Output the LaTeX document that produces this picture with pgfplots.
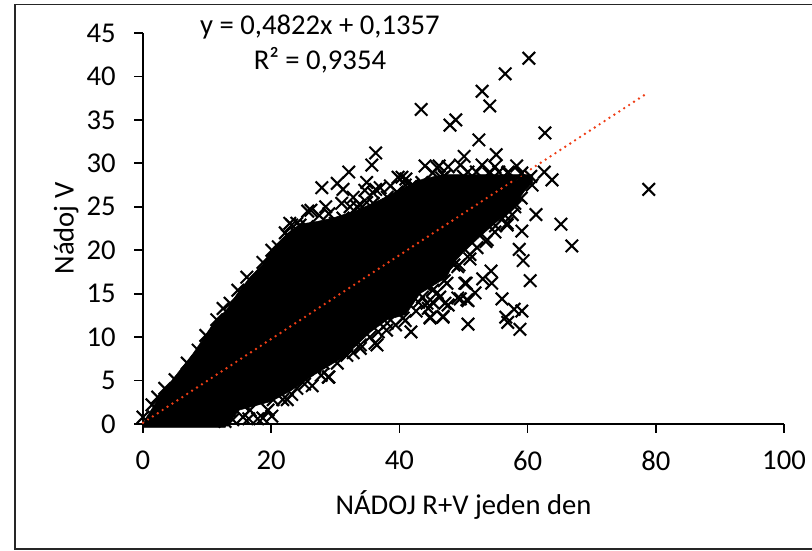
\documentclass[border=0pt]{standalone}
\usepackage{pgfplots}
\pgfplotsset{compat=1.18}
\usepackage{fontspec}
\setmainfont{Carlito}
\definecolor{trend}{RGB}{238,62,22}
\begin{document}
\begin{tikzpicture}
\useasboundingbox (-107.25pt,-94.5pt) rectangle (501.75pt,318pt);
\draw[line width=1pt,black!85] (501.75pt,314.8pt) -- (-96pt,314.8pt) -- (-96pt,-93.8pt) -- (501.75pt,-93.8pt);
\begin{axis}[
  scale only axis, width=480.75pt, height=293.25pt,
  xmin=0, xmax=100, ymin=0, ymax=45,
  axis lines=left, axis line style={-, line width=1.4pt},
  xtick={0,20,...,100}, ytick={0,5,...,45},
  tick align=outside, major tick length=6.5pt,
  tick style={line width=1.3pt,black},
  every tick label/.append style={font=\fontsize{21.5}{24}\selectfont},
  /pgf/number format/assume math mode=true,
  xticklabel style={yshift=-10.5pt},
  yticklabel style={xshift=-10.5pt},
  xlabel={NÁDOJ R+V jeden den}, ylabel={Nádoj V},
  label style={font=\fontsize{21.5}{24}\selectfont},
  xlabel style={at={(axis description cs:0.5,-0.207)},anchor=center},
  ylabel style={at={(axis description cs:-0.12,0.5)},anchor=center},
  clip=false,
]
% dense core of the cloud, outline
\addplot[fill=black,draw=black] coordinates {
(0.3,0.5)(3.1,3.7)(6.2,6.6)(7.8,8.1)(9.2,9.6)(10.9,11.5)(13.1,13.2)(14.7,15.0)(16.7,16.9)(18.7,18.4)(20.3,20.3)(22.5,21.9)(24.5,23)(27.1,23.3)(29.6,23.7)(33.4,24.6)(37.0,25.8)(40.1,27)(43.7,28.2)(46.8,28.7)(49.5,28.7)(53,28.7)(56.9,28.7)(60.8,28.7)(60.8,27.8)(59.6,26.9)(58,25.2)(56.9,24.2)(55.7,23.6)(52.6,21.6)(49.9,19.7)(48.4,18.5)(47.4,16.9)(43.2,15)(41,12.6)(38.1,12)(35.5,10.6)(31.5,7.8)(27,5.8)(23,3.8)(20,2.6)(15,1.6)(12.8,-0.4)(0,-0.4)
} -- cycle;
\addplot[only marks,mark=x,mark size=6.6pt,mark options={line width=1.55pt,black}] coordinates {
(60.2,42.1)(56.5,40.3)(52.9,38.3)(54.1,36.6)(43.4,36.2)(48.8,35.0)(47.9,34.4)(52.4,32.7)(62.7,33.5)(55.1,31.0)(50.1,30.8)
(44.0,29.7)(46.2,29.7)(47.6,29.6)(49.5,29.8)(52.9,29.8)(58.3,29.7)(62.6,29.0)(63.8,28.1)(78.9,27.0)(61.3,24.1)(65.2,23.0)(66.9,20.5)
(59.1,22.2)(58.7,20.1)(59.3,18.8)(60.4,16.5)(57.6,24.1)(40.4,28.4)(42.0,27.3)(43.5,27.8)
(54.3,17.6)(53.0,16.7)(54.4,16.2)(50.4,16.2)(51.8,15.1)(56.0,14.4)(57.9,13.2)(59.1,13.0)(56.6,12.3)(56.9,11.7)(58.8,10.9)
(50.7,11.5)(50.7,14.2)(49.5,14.4)(47.6,13.7)(46.8,12.4)(44.8,12.2)(41.8,10.6)(40.9,11.9)(51.0,19.0)(49.3,18.3)(52.1,20.3)(53.7,21.2)(54.9,22.1)(56.8,23.1)
(45.2,15.4)(44.5,13.3)(46.3,14.6)
(38.1,11.6)(36.5,9.1)(33.9,8.7)(29.0,5.4)(26.4,4.4)(28.1,7.0)(22.5,2.8)(20.1,0.9)(17.9,0.6)(15.6,0.8)(24.0,4.1)(31.8,7.9)(35.4,10.0)(40.6,12.2)
(12.8,0.3)(36.2,9.3)(33.9,9.1)(36.7,10.6)(44.8,12.3)(46.8,12.3)(44.3,13.9)(47.1,13.9)(45.9,15.1)(49.1,14.5)(50.5,14.3)(50.2,16.2)(49.1,18.1)(47.4,16.2)(44.5,16.0)
(18.7,0.7)(14.0,0.5)(16.7,1.6)(20.3,2.8)(21.8,2.8)(28.9,5.4)(26.8,6.6)(18.7,3.3)(15.6,2.2)(13.5,1.5)(16.5,0.6)(19.5,1.6)(23.2,3.4)(25.2,4.6)(27.8,5.6)(30.3,7)(32.8,8.2)(38,10.8)(39.4,11.4)(42.6,13)(43.6,14.6)(45.2,14)
(36.3,31.2)(35.7,29.8)(32.1,29.0)(27.9,27.2)(30.3,27.7)(31.2,27.0)(32.8,26.1)(28.5,25.0)(26.2,24.6)(25.7,24.5)(34.9,27.8)(34.6,26.9)(37.0,27.2)(39.8,28.4)
(45.9,29.5)(41.7,27.3)(39.6,26.7)(38.1,26.1)(35.9,25.4)(33.4,25.0)(31.2,23.7)(30.4,23.1)(24.0,23.1)(22.9,23.1)(25.6,22.7)(22.5,21.7)(21.1,20.4)(20.1,20.0)(23.7,19.8)(18.7,18.6)(16.2,16.9)(14.8,15.4)(13.6,13.9)(12.5,13.3)(27.1,22.3)(28.1,22.0)(21.8,18.5)
(33.9,25.2)(35.9,26.6)(30,23.1)(23.2,22.9)(22.2,22)(24.5,22.9)(25.3,22.1)(32.3,25)(34.9,25.5)(37,24.9)(42.1,27.5)(40.9,27.5)(39.3,25.5)
(29,24.2)(31,25.4)(27.5,24)(38.6,27.4)(36.3,27)(41,28.2)
(11.5,12.0)(9.8,10.2)(8.6,8.5)(6.9,7.0)(5.0,5.1)(3.4,4.1)(2.3,3.1)(1.4,2.2)(0,0.8)
(45.2,28.9)(46.6,28.3)(50.7,29)(54.1,29)(54.9,29.6)(56.9,28.9)(59.1,28.9)(60.7,27.5)(58.3,26.4)(58,25.4)(56.8,22.9)
(47,28.5)(50,28.5)(52,29)(54,28.8)(55.5,29)(57,29)(59,28.8)(60.5,28.5)
(59,26)(58,25)(56.5,24)(55,22.8)(53.5,21)(51,19.5)(48.5,18.3)(47,16.5)(44,16)(43,14)
};
\addplot[trend,line width=2pt,line cap=round,dash pattern=on 0pt off 4.4pt] coordinates {(0,0.1357)(78.5,38.0)};
\node[font=\fontsize{21.5}{24}\selectfont] at (axis description cs:0.276,1.015) {y = 0,4822x + 0,1357};
\node[font=\fontsize{21.5}{24}\selectfont] at (axis description cs:0.276,0.931) {R² = 0,9354};
\end{axis}
\end{tikzpicture}
\end{document}
